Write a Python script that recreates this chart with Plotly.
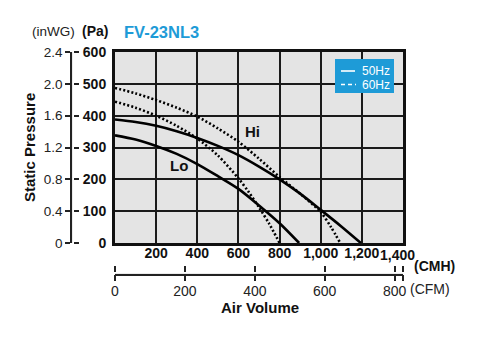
import plotly.graph_objects as go

# Fan performance curves, FV-23NL3 (air volume in CMH, static pressure in Pa)
hi_60_cmh = [0, 100, 200, 300, 400, 500, 600, 700, 800, 900, 1000, 1050, 1095]
hi_60_pa = [487, 470, 449, 425, 397, 360, 318, 265, 207, 155, 97, 50, 0]

hi_50_cmh = [0, 100, 200, 300, 400, 500, 600, 700, 800, 900, 1000, 1100, 1195]
hi_50_pa = [388, 380, 368, 351, 330, 305, 276, 240, 200, 155, 104, 52, 0]

lo_60_cmh = [0, 100, 200, 300, 400, 500, 600, 650, 700, 750, 800]
lo_60_pa = [444, 425, 400, 368, 328, 275, 203, 160, 112, 60, 0]

lo_50_cmh = [0, 100, 200, 300, 400, 500, 600, 700, 800, 895]
lo_50_pa = [338, 325, 305, 280, 248, 210, 170, 118, 62, 0]

# Axis ticks
cmh_ticks = [200, 400, 600, 800, 1000, 1200, 1400]
cmh_labels = ["200", "400", "600", "800", "1,000", "1,200", ""]
cmh_last_label = "1,400"
pa_ticks = [0, 100, 200, 300, 400, 500, 600]
inwg_ticks = [0, 0.4, 0.8, 1.2, 1.6, 2.0, 2.4]
inwg_labels = ["0", "0.4", "0.8", "1.2", "1.6", "2.0", "2.4"]
cfm_ticks = [0, 200, 400, 600, 800]

CMH_PER_CFM = 1.699
CMH_MAX = 1400
PA_MAX = 600
INWG_MAX = 2.4

W, H = 480, 345
FONT = "Liberation Sans, Arial, sans-serif"
BLUE = "#1e9bd7"


def px(x):
    return x / W


def py(y):
    return 1 - y / H


x_dom = [px(115), px(403)]
y_dom = [py(243), py(52)]
# thin hidden helper axes that carry the secondary scales
inwg_dom = [px(72), px(72.5)]
cfm_dom = [py(273.5), py(273)]

fig = go.Figure()

curve_line = dict(color="black", width=2.6, shape="spline", smoothing=0.8)
dot_line = dict(color="black", width=2.6, dash="2px,2.2px", shape="spline", smoothing=0.8)

for xs, ys, ln in [
    (hi_60_cmh, hi_60_pa, dot_line),
    (lo_60_cmh, lo_60_pa, dot_line),
    (hi_50_cmh, hi_50_pa, curve_line),
    (lo_50_cmh, lo_50_pa, curve_line),
]:
    fig.add_trace(go.Scatter(x=xs, y=ys, mode="lines", line=ln,
                             showlegend=False, hoverinfo="skip",
                             xaxis="x", yaxis="y"))

# empty traces so every scale gets drawn
for xa, ya in [("x2", "y4"), ("x3", "y4"), ("x4", "y2"), ("x4", "y3")]:
    fig.add_trace(go.Scatter(x=[None], y=[None], xaxis=xa, yaxis=ya,
                             showlegend=False, hoverinfo="skip"))

cfm_max = CMH_MAX / CMH_PER_CFM
cfm_tickvals = cfm_ticks + [cfm_max]
cfm_ticktext = [str(v) for v in cfm_ticks] + [""]

bold_tick = dict(family=FONT, size=14, color="#111", weight="bold")
plain_tick = dict(family=FONT, size=14, color="#222")
hidden = dict(visible=False, fixedrange=True)

fig.update_layout(
    width=W, height=H,
    margin=dict(l=0, r=0, t=0, b=0, autoexpand=False),
    paper_bgcolor="white",
    plot_bgcolor="#e4e4e4",
    font=dict(family=FONT),
    xaxis=dict(
        domain=x_dom, range=[0, CMH_MAX], anchor="y",
        tickvals=cmh_ticks, ticktext=cmh_labels, tickfont=bold_tick,
        ticks="", ticklabelstandoff=-5,
        showgrid=True, gridcolor="#1a1a1a", gridwidth=1.8,
        showline=True, linecolor="#111", linewidth=3, mirror=True,
        zeroline=False, fixedrange=True,
    ),
    yaxis=dict(
        domain=y_dom, range=[0, PA_MAX], anchor="x",
        tickvals=pa_ticks, tickfont=bold_tick,
        ticks="", ticklabelstandoff=3,
        showgrid=True, gridcolor="#1a1a1a", gridwidth=1.8,
        showline=True, linecolor="#111", linewidth=3, mirror=True,
        zeroline=False, fixedrange=True,
    ),
    # CFM scale below the plot (ticks crossing the line)
    xaxis2=dict(
        domain=x_dom, range=[0, cfm_max], anchor="y4", side="bottom",
        tickvals=cfm_tickvals, ticktext=cfm_ticktext, tickfont=plain_tick,
        ticks="outside", ticklen=6, tickwidth=1.5, tickcolor="#222",
        ticklabelstandoff=-2,
        showline=True, linecolor="#222", linewidth=1.5,
        showgrid=False, zeroline=False, fixedrange=True,
    ),
    xaxis3=dict(
        domain=x_dom, range=[0, cfm_max], anchor="y4", side="top",
        tickvals=cfm_tickvals, showticklabels=False,
        ticks="outside", ticklen=6, tickwidth=1.5, tickcolor="#222",
        showline=False, showgrid=False, zeroline=False, fixedrange=True,
    ),
    yaxis4=dict(domain=cfm_dom, range=[0, 1], anchor="x2", **hidden),
    # inWG scale left of the Pa scale (ticks crossing the line)
    yaxis2=dict(
        domain=y_dom, range=[0, INWG_MAX], anchor="x4", side="left",
        tickvals=inwg_ticks, ticktext=inwg_labels,
        tickfont=dict(family=FONT, size=13.5, color="#222"),
        ticks="outside", ticklen=5, tickwidth=1.5, tickcolor="#222",
        ticklabelstandoff=0,
        showline=True, linecolor="#222", linewidth=1.5,
        showgrid=False, zeroline=False, fixedrange=True,
    ),
    yaxis3=dict(
        domain=y_dom, range=[0, INWG_MAX], anchor="x4", side="right",
        tickvals=inwg_ticks, showticklabels=False,
        ticks="outside", ticklen=5, tickwidth=1.5, tickcolor="#222",
        showline=False, showgrid=False, zeroline=False, fixedrange=True,
    ),
    xaxis4=dict(domain=inwg_dom, range=[0, 1], anchor="y2", **hidden),
    showlegend=False,
)

annotations = [
    dict(text="FV-23NL3", x=px(123), y=py(32), xanchor="left", yanchor="middle",
         font=dict(family=FONT, size=16.5, color=BLUE, weight="bold")),
    dict(text="(inWG)", x=px(76), y=py(31), xanchor="right", yanchor="middle",
         font=dict(family=FONT, size=13.5, color="#222")),
    dict(text="(Pa)", x=px(109), y=py(31), xanchor="right", yanchor="middle",
         font=dict(family=FONT, size=14, color="#111", weight="bold")),
    dict(text="Static Pressure", x=px(29), y=py(148), textangle=-90,
         xanchor="center", yanchor="middle",
         font=dict(family=FONT, size=15, color="#111", weight="bold")),
    dict(text="Air Volume", x=px(260), y=py(307), xanchor="center", yanchor="middle",
         font=dict(family=FONT, size=15, color="#111", weight="bold")),
    dict(text="(CMH)", x=px(413), y=py(266), xanchor="left", yanchor="middle",
         font=dict(family=FONT, size=14, color="#111", weight="bold")),
    dict(text="(CFM)", x=px(409), y=py(289), xanchor="left", yanchor="middle",
         font=dict(family=FONT, size=14, color="#222")),
    dict(text="50Hz", x=px(361), y=py(71), xanchor="left", yanchor="middle",
         font=dict(family=FONT, size=12, color="white")),
    dict(text="60Hz", x=px(361), y=py(84.5), xanchor="left", yanchor="middle",
         font=dict(family=FONT, size=12, color="white")),
    # last CMH label, nudged left of the frame corner
    dict(text=cmh_last_label, x=CMH_MAX, xref="x", y=py(255), xshift=-6,
         xanchor="center", yanchor="middle", font=bold_tick),
    # curve group labels
    dict(text="Hi", x=666, y=349, xref="x", yref="y", xanchor="center", yanchor="middle",
         font=dict(family=FONT, size=15, color="#111", weight="bold")),
    dict(text="Lo", x=311, y=245, xref="x", yref="y", xanchor="center", yanchor="middle",
         font=dict(family=FONT, size=15, color="#111", weight="bold")),
]
for a in annotations:
    a.setdefault("xref", "paper")
    a.setdefault("yref", "paper")
    a["showarrow"] = False
    a["borderpad"] = 0
    fig.add_annotation(**a)

# frequency key box
fig.add_shape(type="rect", xref="paper", yref="paper",
              x0=px(335), x1=px(394), y0=py(93), y1=py(59),
              fillcolor=BLUE, line=dict(width=0), layer="above")
fig.add_shape(type="line", xref="paper", yref="paper",
              x0=px(341), x1=px(355), y0=py(71), y1=py(71),
              line=dict(color="white", width=1.6), layer="above")
fig.add_shape(type="line", xref="paper", yref="paper",
              x0=px(341), x1=px(356), y0=py(84.5), y1=py(84.5),
              line=dict(color="white", width=1.6, dash="4px,3px"), layer="above")

fig.write_html("out.html")
